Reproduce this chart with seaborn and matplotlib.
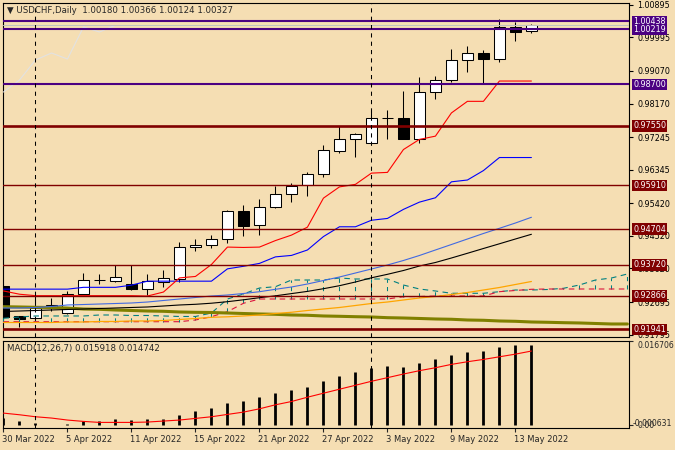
import matplotlib
matplotlib.use("Agg")
import matplotlib.pyplot as plt
import matplotlib.transforms as mtrans
import numpy as np
import seaborn as sns

sns.set_style("white")
plt.rcParams["font.family"] = ["DejaVu Sans"]
plt.rcParams["axes.edgecolor"] = "black"
plt.rcParams["axes.linewidth"] = 0.8

WHEAT = "#F5DEB3"

# ── data ───────────────────────────────────────────────────
dates = ["30 Mar", "31 Mar", "1 Apr", "4 Apr", "5 Apr", "6 Apr", "7 Apr", "8 Apr",
         "11 Apr", "12 Apr", "13 Apr", "14 Apr", "15 Apr", "18 Apr", "19 Apr", "20 Apr",
         "21 Apr", "22 Apr", "25 Apr", "26 Apr", "27 Apr", "28 Apr", "29 Apr", "2 May",
         "3 May", "4 May", "5 May", "6 May", "9 May", "10 May", "11 May", "12 May",
         "13 May", "16 May"]
tick_dates = ["30 Mar", "5 Apr", "11 Apr", "15 Apr", "21 Apr", "27 Apr", "3 May", "9 May", "13 May"]

opens = [0.93137, 0.92309, 0.92254, 0.92557, 0.92392, 0.92916, 0.93300, 0.93274, 0.93192,
         0.93054, 0.93247, 0.93330, 0.94212, 0.94268, 0.94433, 0.95205, 0.94820, 0.95316,
         0.95674, 0.95922, 0.96226, 0.96860, 0.97191, 0.97081, 0.97770, 0.97770, 0.97191,
         0.98487, 0.98818, 0.99370, 0.99563, 0.99397, 1.00280, 1.00180]
highs = [0.93200, 0.92310, 0.92861, 0.92806, 0.92999, 0.93495, 0.93467, 0.93716, 0.93716,
         0.93467, 0.93578, 0.94350, 0.94433, 0.94543, 0.95233, 0.95371, 0.95536, 0.95895,
         0.95977, 0.96281, 0.97026, 0.97550, 0.97357, 0.97991, 0.97991, 0.98515, 0.98901,
         0.98929, 0.99673, 0.99756, 0.99646, 1.00501, 1.00418, 1.00366]
lows = [0.92220, 0.92006, 0.92227, 0.92448, 0.92364, 0.92916, 0.93190, 0.93247, 0.93026,
        0.92889, 0.93109, 0.93247, 0.94102, 0.94185, 0.94323, 0.94516, 0.94543, 0.95288,
        0.95453, 0.95619, 0.96143, 0.96805, 0.96695, 0.97081, 0.97191, 0.97191, 0.97081,
        0.98294, 0.98763, 0.99039, 0.98720, 0.99310, 0.99894, 1.00124]
closes = [0.92282, 0.92235, 0.92530, 0.92613, 0.92916, 0.93302, 0.93300, 0.93385, 0.93054,
          0.93274, 0.93357, 0.94212, 0.94268, 0.94433, 0.95205, 0.94792, 0.95316, 0.95674,
          0.95895, 0.96226, 0.96888, 0.97191, 0.97329, 0.97770, 0.97770, 0.97191, 0.98487,
          0.98818, 0.99370, 0.99563, 0.99397, 1.00280, 1.00142, 1.00327]

tenkan = [0.9300, 0.9291, 0.9287, 0.9287, 0.9287, 0.9287, 0.9287, 0.9287, 0.9287, 0.9286,
          0.9297, 0.9336, 0.9340, 0.9373, 0.9421, 0.9420, 0.9421, 0.9439, 0.9454, 0.9476,
          0.9556, 0.9587, 0.9594, 0.9625, 0.9627, 0.9690, 0.9718, 0.9727, 0.9791, 0.9823,
          0.9823, 0.9879, 0.9879, 0.9879]
kijun = [0.9305, 0.9305, 0.9305, 0.9305, 0.9305, 0.9310, 0.9310, 0.9310, 0.9316, 0.9327,
         0.9327, 0.9327, 0.9327, 0.9327, 0.9361, 0.9368, 0.9376, 0.9394, 0.9398, 0.9413,
         0.9450, 0.9477, 0.9477, 0.9495, 0.9500, 0.9525, 0.9545, 0.9557, 0.9601, 0.9606,
         0.9632, 0.9668, 0.9668, 0.9668]
chikou = [0.98487, 0.98818, 0.99370, 0.99563, 0.99397, 1.00280, 1.00142, 1.00327]
span_a = [0.92246, 0.92282, 0.92310, 0.92310, 0.92310, 0.92310, 0.92337, 0.92337, 0.92323,
          0.92323, 0.92310, 0.92296, 0.92296, 0.92392, 0.92778, 0.92916, 0.93081, 0.93117,
          0.93302, 0.93302, 0.93302, 0.93357, 0.93330, 0.93330, 0.93330, 0.93164, 0.93054,
          0.92999, 0.92936, 0.92936, 0.92936, 0.92980, 0.93026, 0.93026, 0.93040, 0.93073,
          0.93164, 0.93302, 0.93357, 0.93468]
span_b = [0.92152, 0.92152, 0.92152, 0.92152, 0.92152, 0.92152, 0.92152, 0.92152, 0.92152,
          0.92152, 0.92152, 0.92152, 0.92199, 0.92290, 0.92428, 0.92660, 0.92778, 0.92778,
          0.92778, 0.92778, 0.92778, 0.92778, 0.92778, 0.92778, 0.92778, 0.92841, 0.92847,
          0.92861, 0.92861, 0.92861, 0.92861, 0.92980, 0.93013, 0.93046, 0.93054, 0.93054,
          0.93054, 0.93054, 0.93054, 0.93054]
ma_blue = [0.92530, 0.92530, 0.92544, 0.92571, 0.92613, 0.92626, 0.92640, 0.92654, 0.92668,
           0.92695, 0.92737, 0.92778, 0.92820, 0.92861, 0.92888, 0.92930, 0.92979, 0.93046,
           0.93109, 0.93192, 0.93288, 0.93385, 0.93495, 0.93606, 0.93716, 0.93840, 0.93978,
           0.94130, 0.94281, 0.94433, 0.94585, 0.94728, 0.94874, 0.95032]
ma_black = [0.92434, 0.92447, 0.92461, 0.92475, 0.92489, 0.92502, 0.92516, 0.92530, 0.92544,
            0.92558, 0.92585, 0.92613, 0.92632, 0.92662, 0.92704, 0.92756, 0.92814, 0.92866,
            0.92927, 0.92988, 0.93062, 0.93145, 0.93247, 0.93363, 0.93459, 0.93564, 0.93688,
            0.93785, 0.93909, 0.94039, 0.94171, 0.94301, 0.94433, 0.94563]
ma_orange = [0.92130, 0.92130, 0.92130, 0.92130, 0.92144, 0.92144, 0.92158, 0.92158, 0.92172,
             0.92172, 0.92185, 0.92213, 0.92240, 0.92274, 0.92287, 0.92310, 0.92337, 0.92379,
             0.92412, 0.92461, 0.92502, 0.92544, 0.92599, 0.92654, 0.92695, 0.92751, 0.92806,
             0.92847, 0.92902, 0.92957, 0.93026, 0.93095, 0.93178, 0.93261]
ma_olive = [0.92566, 0.92558, 0.92549, 0.92544, 0.92530, 0.92502, 0.92494, 0.92475, 0.92461,
            0.92447, 0.92439, 0.92420, 0.92411, 0.92406, 0.92392, 0.92378, 0.92365, 0.92356,
            0.92337, 0.92329, 0.92310, 0.92301, 0.92290, 0.92282, 0.92263, 0.92254, 0.92241,
            0.92227, 0.92219, 0.92199, 0.92191, 0.92172, 0.92163, 0.92144, 0.92136, 0.92125,
            0.92117, 0.92103, 0.92089, 0.92089]

levels = [1.00438, 1.00219, 0.98700, 0.97550, 0.95910, 0.94704, 0.93720, 0.92866, 0.91941]
level_colors = ["#4B0082"] * 3 + ["#800000"] * 6
level_widths = [1.5, 1.5, 1.5, 1.9, 1.0, 1.0, 1.0, 1.0, 1.9]
price_ticks = [1.00895, 0.99995, 0.99070, 0.98170, 0.97245, 0.96345, 0.95420, 0.94520,
               0.93620, 0.92695, 0.91795]

macd = [0.00133, 0.00073, 0.00033, -0.00013, 0.00010, 0.00066, 0.00066, 0.00113, 0.00093,
        0.00113, 0.00113, 0.00192, 0.00278, 0.00332, 0.00431, 0.00477, 0.00550, 0.00630,
        0.00690, 0.00762, 0.00869, 0.00968, 0.01048, 0.01127, 0.01167, 0.01147, 0.01227,
        0.01306, 0.01386, 0.01445, 0.01465, 0.01545, 0.01595, 0.015918]
signal = [0.00232, 0.00199, 0.00159, 0.00133, 0.00093, 0.00066, 0.00046, 0.00046, 0.00046,
          0.00053, 0.00073, 0.00093, 0.00126, 0.00159, 0.00206, 0.00252, 0.00318, 0.00398,
          0.00464, 0.00550, 0.00630, 0.00710, 0.00789, 0.00869, 0.00941, 0.01014, 0.01081,
          0.01140, 0.01207, 0.01260, 0.01306, 0.01359, 0.01412, 0.014742]
macd_max, macd_min = 0.016706, -0.000631

# ── layout ─────────────────────────────────────────────────
W, H = 675, 450
fig = plt.figure(figsize=(W / 100, H / 100), dpi=100, facecolor=WHEAT)


def px_box(l, t, r, b):
    return [l / W, 1 - b / H, (r - l) / W, (b - t) / H]


ax = fig.add_axes(px_box(3, 2.5, 629, 337), facecolor=WHEAT)
ax2 = fig.add_axes(px_box(3, 340.5, 629, 428), facecolor=WHEAT)

x = np.arange(len(closes))
xs = np.arange(len(span_a))
o, h, l, c = map(np.array, (opens, highs, lows, closes))
up = c >= o

# ── candles ────────────────────────────────────────────────
ax.vlines(x, l, h, color="black", lw=0.75, zorder=2)
ax.bar(x, np.maximum(np.abs(c - o), 0.00002), bottom=np.minimum(o, c), width=0.66,
       color=np.where(up, "white", "black"), edgecolor="black", linewidth=0.75, zorder=2.5)

# ── indicators ─────────────────────────────────────────────
a, b = np.array(span_a), np.array(span_b)
ax.vlines(xs[a > b], b[a > b], a[a > b], colors="#008080", lw=0.75,
          linestyles=(0, (4, 4)), zorder=3)
sns.lineplot(x=xs, y=span_a, color="#008080", lw=0.8, linestyle=(0, (5, 4)), ax=ax, zorder=3)
sns.lineplot(x=xs, y=span_b, color="#DC143C", lw=0.8, linestyle=(0, (5, 4)), ax=ax, zorder=3)
sns.lineplot(x=xs, y=ma_olive, color="#808000", lw=2.2, ax=ax, zorder=3)
sns.lineplot(x=x, y=ma_orange, color="#FFA500", lw=0.9, ax=ax, zorder=3)
sns.lineplot(x=x, y=ma_black, color="black", lw=0.8, ax=ax, zorder=3)
sns.lineplot(x=x, y=ma_blue, color="#4169E1", lw=0.8, ax=ax, zorder=3)
sns.lineplot(x=x, y=kijun, color="#0000FF", lw=0.8, ax=ax, zorder=3)
sns.lineplot(x=x, y=tenkan, color="#FF0000", lw=0.8, ax=ax, zorder=3)
sns.lineplot(x=np.arange(len(chikou)), y=chikou, color="#E2E2E2", lw=0.8, ax=ax, zorder=3)

# ── horizontal levels + price labels ───────────────────────
ax.axhline(closes[-1], color="#C0C0C0", lw=0.75, zorder=3.5)
trans = mtrans.blended_transform_factory(ax.transAxes, ax.transData)
for v, col, w in zip(levels, level_colors, level_widths):
    ax.axhline(v, color=col, lw=w, zorder=4)
    ax.text(1.0065, v, f"{v:.5f}", transform=trans, ha="left", va="center", fontsize=5.8,
            color="white", clip_on=False, zorder=10,
            bbox=dict(boxstyle="square,pad=0.15", fc=col, ec="none"))

# period separators (first bar of each month)
seps = [i for i in range(1, len(dates)) if dates[i].split()[1] != dates[i - 1].split()[1]]
for s in seps:
    for axis in (ax, ax2):
        axis.axvline(s, color="black", lw=0.75, linestyle=(0, (4, 4)), zorder=5)

ax.set_xlim(-0.03, 39.1)
ax.set_ylim(0.9173, 1.00956)
ax.set_xticks([])
ax.yaxis.tick_right()
ax.set_yticks(price_ticks)
ax.set_yticklabels([f"{t:.5f}" for t in price_ticks])
ax.tick_params(axis="y", direction="out", length=3, width=0.8, pad=3, labelsize=5.8,
               colors="black", right=True, left=False)
ax.set_xlabel("")
ax.set_ylabel("")

# ── MACD panel ─────────────────────────────────────────────
ax2.vlines(x, 0, macd, color="black", lw=2.0, zorder=2)
sns.lineplot(x=x, y=signal, color="#FF0000", lw=0.8, ax=ax2, zorder=3)
ax2.set_xlim(-0.03, 39.1)
ax2.set_ylim(-0.00066, 0.01685)
ax2.yaxis.tick_right()
ax2.set_yticks([macd_max, 0.0])
ax2.set_yticklabels([f"{macd_max:.6f}", "0.00"])
ax2.tick_params(axis="y", direction="out", length=3, width=0.8, pad=3, labelsize=5.6,
                right=True, left=False)
ax2.get_yticklabels()[0].set_va("top")
trans2 = mtrans.blended_transform_factory(ax2.transAxes, ax2.transData)
ax2.text(1.005, macd_min, f"{macd_min:.6f}", transform=trans2, ha="left", va="bottom",
         fontsize=5.6, clip_on=False)

tick_pos = [dates.index(d) for d in tick_dates]
ax2.set_xticks(tick_pos)
ax2.set_xticklabels([f"{d} 2022" for d in tick_dates])
ax2.tick_params(axis="x", direction="out", length=3, width=0.8, pad=2, labelsize=6,
                bottom=True)
shift = mtrans.ScaledTranslation(-0.015, 0, fig.dpi_scale_trans)
for lab in ax2.get_xticklabels():
    lab.set_ha("left")
    lab.set_transform(lab.get_transform() + shift)
ax2.set_xlabel("")
ax2.set_ylabel("")

# ── header texts ───────────────────────────────────────────
fig.text(7 / W, 1 - 10.5 / H,
         f"▼ USDCHF,Daily  {opens[-1]:.5f} {highs[-1]:.5f} {lows[-1]:.5f} {closes[-1]:.5f}",
         fontsize=6.2, va="center", ha="left")
fig.text(7 / W, 1 - 348 / H, f"MACD(12,26,7) {macd[-1]:.6f} {signal[-1]:.6f}",
         fontsize=6.2, va="center", ha="left")

fig.savefig("out.png", dpi=100, facecolor=WHEAT)
